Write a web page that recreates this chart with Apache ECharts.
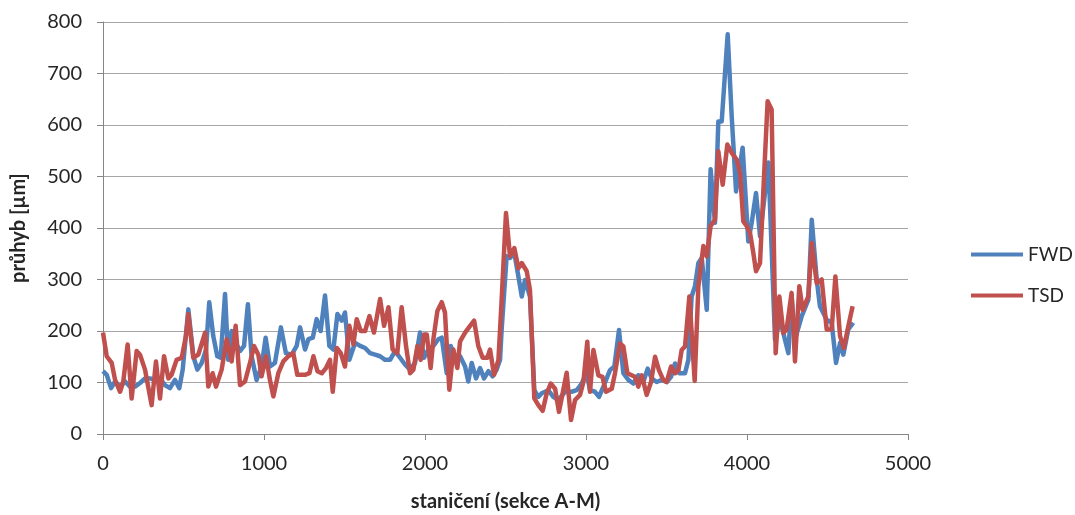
<!DOCTYPE html>
<html>
<head>
<meta charset="utf-8">
<script src="https://cdn.jsdelivr.net/npm/echarts@6/dist/echarts.min.js"></script>
<style>
  html, body { margin: 0; padding: 0; background: #fff; }
  #chart { width: 1075px; height: 515px; }
</style>
</head>
<body>
<div id="chart"></div>
<script>
// staničení a průhyb
const fwdX = [0, 23, 50, 75, 106, 137, 168, 199, 230, 261, 292, 323, 354, 385, 416, 447, 474, 495, 530, 561,
  586, 613, 640, 660, 685, 710, 731, 758, 778, 799, 820, 851, 876, 900, 923, 954, 985, 1010, 1037, 1068,
  1105, 1136, 1172, 1203, 1224, 1255, 1276, 1303, 1327, 1352, 1379, 1406, 1431, 1456, 1483, 1503, 1530, 1566, 1597, 1628,
  1659, 1690, 1721, 1752, 1783, 1814, 1845, 1876, 1907, 1938, 1969, 1994, 2021, 2052, 2083, 2104, 2135, 2160, 2187, 2218,
  2249, 2269, 2290, 2317, 2342, 2367, 2394, 2420, 2445, 2466, 2476, 2507, 2528, 2555, 2580, 2601, 2621, 2652, 2679, 2704,
  2725, 2766, 2797, 2828, 2870, 2911, 2942, 2973, 3004, 3025, 3056, 3081, 3108, 3149, 3176, 3205, 3232, 3263, 3294, 3325,
  3356, 3383, 3408, 3439, 3470, 3501, 3528, 3553, 3578, 3615, 3636, 3656, 3677, 3698, 3719, 3750, 3774, 3801, 3822, 3843,
  3880, 3905, 3932, 3973, 4008, 4029, 4056, 4081, 4133, 4174, 4205, 4236, 4257, 4277, 4298, 4340, 4381, 4402, 4433, 4453,
  4495, 4526, 4553, 4578, 4598, 4629, 4660];
const fwdY = [122, 115, 89, 102, 92, 102, 92, 92, 99, 108, 108, 105, 108, 95, 89, 105, 89, 125, 242, 151,
  125, 138, 164, 256, 190, 151, 148, 272, 144, 200, 180, 161, 171, 252, 151, 105, 131, 187, 131, 138,
  207, 157, 154, 171, 207, 164, 184, 187, 223, 200, 269, 171, 164, 233, 220, 236, 144, 177, 171, 167,
  157, 154, 151, 144, 144, 161, 148, 135, 125, 138, 197, 148, 164, 171, 184, 187, 118, 171, 144, 151,
  131, 102, 138, 108, 128, 108, 122, 112, 125, 144, 202, 345, 342, 351, 306, 267, 299, 267, 85, 72,
  79, 85, 72, 66, 82, 82, 85, 98, 118, 85, 82, 72, 92, 124, 131, 202, 118, 105, 98, 114,
  101, 127, 108, 101, 105, 101, 111, 137, 118, 118, 144, 267, 287, 332, 342, 241, 514, 410, 607, 607,
  776, 617, 471, 556, 374, 410, 468, 384, 527, 183, 222, 183, 157, 267, 183, 229, 261, 416, 300, 248,
  222, 216, 138, 177, 154, 203, 216];

const tsdX = [0, 23, 54, 75, 106, 126, 153, 178, 209, 230, 261, 302, 329, 354, 379, 406, 426, 457, 489, 515,
  530, 561, 592, 634, 654, 681, 702, 737, 768, 799, 824, 851, 882, 913, 938, 965, 985, 1012, 1037, 1058,
  1089, 1120, 1151, 1182, 1207, 1255, 1282, 1307, 1332, 1359, 1385, 1410, 1427, 1452, 1477, 1503, 1530, 1555, 1576, 1601,
  1628, 1655, 1683, 1721, 1746, 1773, 1799, 1828, 1855, 1882, 1907, 1928, 1953, 1973, 1994, 2011, 2035, 2052, 2077, 2104,
  2124, 2151, 2176, 2201, 2218, 2249, 2280, 2305, 2331, 2358, 2387, 2404, 2429, 2456, 2476, 2503, 2528, 2555, 2580, 2601,
  2632, 2652, 2679, 2704, 2731, 2756, 2781, 2808, 2832, 2855, 2880, 2907, 2932, 2963, 2984, 3008, 3025, 3046, 3077, 3102,
  3124, 3160, 3180, 3211, 3232, 3257, 3284, 3304, 3325, 3346, 3377, 3404, 3429, 3453, 3480, 3501, 3528, 3553, 3574, 3594,
  3615, 3642, 3675, 3698, 3729, 3750, 3774, 3801, 3822, 3849, 3878, 3905, 3936, 3957, 3977, 3998, 4019, 4039, 4056, 4081,
  4101, 4128, 4153, 4178, 4201, 4226, 4246, 4277, 4298, 4325, 4346, 4381, 4402, 4433, 4464, 4495, 4526, 4549, 4578, 4602,
  4629, 4656];
const tsdY = [197, 151, 138, 105, 82, 102, 174, 69, 161, 154, 125, 56, 141, 69, 151, 108, 115, 144, 148, 190,
  233, 148, 154, 197, 92, 118, 92, 125, 184, 141, 210, 95, 102, 138, 171, 154, 112, 151, 105, 73,
  118, 141, 151, 157, 115, 115, 118, 151, 122, 118, 128, 144, 82, 167, 157, 131, 210, 174, 223, 200,
  200, 229, 197, 262, 210, 246, 164, 157, 246, 171, 118, 125, 171, 144, 193, 193, 128, 184, 239, 256,
  236, 86, 164, 128, 180, 197, 210, 220, 171, 148, 148, 164, 115, 144, 260, 429, 345, 361, 322, 332,
  316, 280, 69, 56, 45, 79, 98, 88, 43, 79, 119, 27, 66, 76, 101, 179, 82, 163, 114, 111,
  82, 88, 118, 176, 170, 118, 114, 111, 92, 114, 76, 101, 150, 124, 105, 101, 131, 118, 124, 163,
  170, 267, 103, 287, 365, 345, 404, 416, 549, 484, 562, 546, 533, 507, 413, 404, 390, 352, 316, 332,
  468, 646, 630, 157, 267, 196, 203, 274, 141, 287, 241, 267, 371, 293, 300, 203, 203, 306, 190, 167,
  209, 248];

const xTicks = [0, 1000, 2000, 3000, 4000, 5000];
const yTicks = [0, 100, 200, 300, 400, 500, 600, 700, 800];

const pairs = (xs, ys) => xs.map((x, i) => [x, ys[i]]);

const font = "Lato, 'Open Sans', sans-serif";
const chart = echarts.init(document.getElementById("chart"), null, { renderer: "canvas" });

let option = {
  animation: false,
  backgroundColor: "#ffffff",
  grid: { left: 103, right: 167, top: 22, bottom: 81, containLabel: false, outerBoundsMode: "none" },
  legend: {
    orient: "vertical",
    left: 966,
    top: 240,
    itemWidth: 52,
    itemHeight: 4,
    itemGap: 22,
    icon: "rect",
    textStyle: { fontFamily: font, fontSize: 19, color: "#262626", padding: [0, 0, 0, 0] },
    data: ["FWD", "TSD"],
  },
  xAxis: {
    type: "value",
    min: xTicks[0],
    max: xTicks[xTicks.length - 1],
    interval: 1000,
    name: "staničení (sekce A-M)",
    nameLocation: "middle",
    nameGap: 58,
    nameTextStyle: { fontFamily: font, fontSize: 20, fontWeight: "bold", color: "#262626" },
    axisLine: { show: true, lineStyle: { color: "#868686", width: 1 } },
    axisTick: { show: true, length: 6, lineStyle: { color: "#868686" } },
    axisLabel: { fontFamily: font, fontSize: 20, color: "#262626", margin: 20, formatter: (v) => String(v) },
    splitLine: { show: false },
  },
  yAxis: {
    type: "value",
    min: yTicks[0],
    max: yTicks[yTicks.length - 1],
    interval: 100,
    name: "průhyb [µm]",
    nameLocation: "middle",
    nameRotate: 90,
    nameGap: 74,
    nameTextStyle: { fontFamily: font, fontSize: 20, fontWeight: "bold", color: "#262626" },
    axisLine: { show: true, lineStyle: { color: "#868686", width: 1 } },
    axisTick: { show: true, length: 6, lineStyle: { color: "#868686" } },
    axisLabel: { fontFamily: font, fontSize: 20, color: "#262626", margin: 21, formatter: (v) => String(v) },
    splitLine: { show: true, lineStyle: { color: "#a6a6a6", width: 1 } },
  },
  series: [
    {
      name: "FWD",
      type: "line",
      data: pairs(fwdX, fwdY),
      showSymbol: false,
      symbol: "none",
      lineStyle: { color: "#4f81bd", width: 4.5, join: "round" },
      itemStyle: { color: "#4f81bd" },
    },
    {
      name: "TSD",
      type: "line",
      data: pairs(tsdX, tsdY),
      showSymbol: false,
      symbol: "none",
      lineStyle: { color: "#c0504d", width: 4.5, join: "round" },
      itemStyle: { color: "#c0504d" },
    },
  ],
};
chart.setOption(option, true);
</script>
</body>
</html>
